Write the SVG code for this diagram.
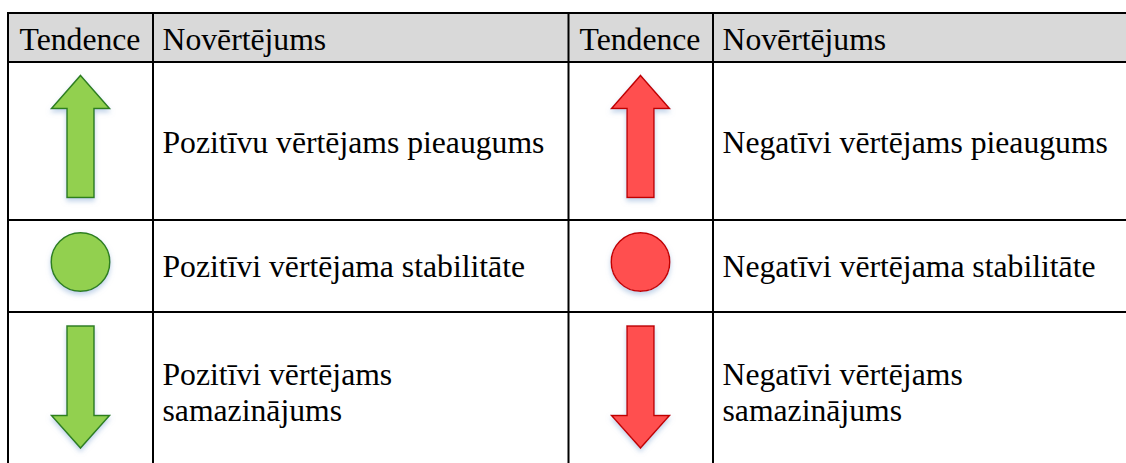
<svg xmlns="http://www.w3.org/2000/svg" width="1126" height="463" viewBox="0 0 1126 463">
  <defs>
    <filter id="sh" x="-40%" y="-30%" width="180%" height="170%">
      <feGaussianBlur in="SourceAlpha" stdDeviation="2.5" result="b"/>
      <feOffset in="b" dx="0" dy="3" result="o"/>
      <feFlood flood-color="#8fb0d8" flood-opacity="0.55"/>
      <feComposite in2="o" operator="in" result="s"/>
      <feMerge><feMergeNode in="s"/><feMergeNode in="SourceGraphic"/></feMerge>
    </filter>
  </defs>
  <style>
    text { font-family: 'Liberation Serif', 'DejaVu Serif', serif; font-size: 31.7px; fill: #000; }
    .grid { stroke: #000; stroke-width: 2; fill: none; }
    .g { fill: #92d050; stroke: #2f7f1f; stroke-width: 1.5; filter: url(#sh); }
    .r { fill: #ff5050; stroke: #c00000; stroke-width: 1.5; filter: url(#sh); }
  </style>
  <rect x="0" y="0" width="1126" height="463" fill="#fff"/>
  <g id="table">
    <rect x="8" y="13" width="1118" height="49" fill="#d9d9d9"/>
    <g class="grid">
      <line x1="7" y1="13" x2="1126" y2="13"/>
      <line x1="7" y1="62" x2="1126" y2="62"/>
      <line x1="7" y1="220" x2="1126" y2="220"/>
      <line x1="7" y1="312" x2="1126" y2="312"/>
      <line x1="8" y1="12" x2="8" y2="463"/>
      <line x1="153" y1="12" x2="153" y2="463"/>
      <line x1="568.5" y1="12" x2="568.5" y2="463"/>
      <line x1="713" y1="12" x2="713" y2="463"/>
    </g>
  </g>
  <g font-family="Liberation Serif, serif" font-size="31.7">
  <g id="header">
    <text x="19.5" y="50">Tendence</text>
    <text x="162.5" y="50">Novērtējums</text>
    <text x="579.5" y="50">Tendence</text>
    <text x="722.5" y="50">Novērtējums</text>
  </g>
  <g id="pos-increase">
    <path class="g" d="M80.5,75.5 L109.5,108.5 L94,108.5 L94,197.5 L67,197.5 L67,108.5 L51.5,108.5 Z"/>
    <text x="162.5" y="153">Pozitīvu vērtējams pieaugums</text>
  </g>
  <g id="neg-increase">
    <path class="r" d="M640.5,75.5 L669.5,108.5 L654,108.5 L654,197.5 L627,197.5 L627,108.5 L611.5,108.5 Z"/>
    <text x="722.5" y="153">Negatīvi vērtējams pieaugums</text>
  </g>
  <g id="pos-stable">
    <circle class="g" cx="80.5" cy="262" r="29.3"/>
    <text x="162.5" y="277">Pozitīvi vērtējama stabilitāte</text>
  </g>
  <g id="neg-stable">
    <circle class="r" cx="640.5" cy="262" r="29.3"/>
    <text x="722.5" y="277">Negatīvi vērtējama stabilitāte</text>
  </g>
  <g id="pos-decrease">
    <path class="g" d="M67,326 L94,326 L94,415.5 L109.5,415.5 L80.5,448 L51.5,415.5 L67,415.5 Z"/>
    <text x="162.5" y="385">Pozitīvi vērtējams</text>
    <text x="162.5" y="421">samazinājums</text>
  </g>
  <g id="neg-decrease">
    <path class="r" d="M627,326 L654,326 L654,415.5 L669.5,415.5 L640.5,448 L611.5,415.5 L627,415.5 Z"/>
    <text x="722.5" y="385">Negatīvi vērtējams</text>
    <text x="722.5" y="421">samazinājums</text>
  </g>
  </g>
  <g id="connectors"/>
</svg>
